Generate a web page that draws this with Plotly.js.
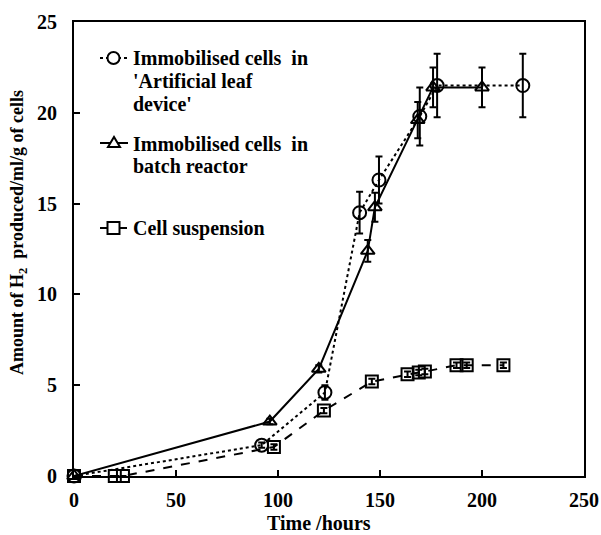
<!DOCTYPE html>
<html>
<head>
<meta charset="utf-8">
<script src="https://cdn.plot.ly/plotly-3.0.1.min.js"></script>
<style>html,body{margin:0;padding:0;background:#fff;}#chart{width:601px;height:535px;}</style>
</head>
<body>
<div id="chart"></div>
<script>
// Immobilised cells in 'Artificial leaf device'
var leafTime = [0, 92, 123, 140, 149.5, 169.5, 178, 220];
var leafH2   = [0, 1.7, 4.6, 14.5, 16.3, 19.8, 21.5, 21.5];
var leafErr  = [0, 0.15, 0.4, 1.15, 1.3, 1.6, 1.75, 1.75];

// Immobilised cells in batch reactor
var batchTime = [0, 96, 120, 144, 147.5, 168.5, 176, 200];
var batchH2   = [0, 3.0, 5.9, 12.4, 14.8, 19.6, 21.4, 21.4];
var batchErr  = [0, 0.15, 0.2, 0.6, 0.8, 1.0, 1.1, 1.1];

// Cell suspension
var suspTime = [0, 20, 24, 98, 122.5, 146, 163.5, 169, 172, 187.5, 192.5, 210.5];
var suspH2   = [0, 0, 0, 1.6, 3.6, 5.2, 5.6, 5.7, 5.75, 6.1, 6.1, 6.1];
var suspErr  = [0, 0, 0, 0.15, 0.15, 0.15, 0.15, 0.15, 0.15, 0.15, 0.15, 0.15];

// Legend text lines
var legendLines1 = ["Immobilised cells  in", "'Artificial leaf", "device'"];
var legendLines2 = ["Immobilised cells  in", "batch reactor"];
var legendLines3 = ["Cell suspension"];
var xTitle = "Time /hours";
var yTitle = "Amount of H<sub>2</sub>  produced/ml/g of cells";

function errCfg(arr){
  return {type:'data', array:arr, visible:true, color:'#000', thickness:2, width:3.5};
}

var traces = [
  {x:leafTime, y:leafH2, name:legendLines1.join(' '), type:'scatter', mode:'lines+markers',
   line:{color:'#000', width:2, dash:'dot'},
   marker:{symbol:'circle-open', size:13, color:'#000', line:{width:2, color:'#000'}},
   error_y:errCfg(leafErr), cliponaxis:false},
  {x:batchTime, y:batchH2, name:legendLines2.join(' '), type:'scatter', mode:'lines+markers',
   line:{color:'#000', width:2, dash:'solid'},
   marker:{symbol:'triangle-up-open', size:12, color:'#000', line:{width:2, color:'#000'}},
   error_y:errCfg(batchErr), cliponaxis:false},
  {x:suspTime, y:suspH2, name:legendLines3.join(' '), type:'scatter', mode:'lines+markers',
   line:{color:'#000', width:2, dash:'dash'},
   marker:{symbol:'square-open', size:12, color:'#000', line:{width:2, color:'#000'}},
   error_y:errCfg(suspErr), cliponaxis:false}
];

var fontFam = '"Liberation Serif", "Times New Roman", serif';

// plot area geometry (pixels) used to place the hand-made legend
var L = 74, R = 17, T = 22, B = 59, W = 601, H = 535;
var pw = W - L - R, ph = H - T - B;
function px2paperX(px){ return (px - L) / pw; }
function px2paperY(py){ return (H - B - py) / ph; }

var annotations = [];
var shapes = [];
function addLegendText(lines, ys){
  lines.forEach(function(t, i){
    annotations.push({xref:'paper', yref:'paper', x:px2paperX(131), y:px2paperY(ys[i]),
      xanchor:'left', yanchor:'middle', showarrow:false, text:t,
      font:{family:fontFam, size:20, color:'#000', weight:'bold'}});
  });
}
addLegendText(legendLines1, [58, 81, 103.5]);
addLegendText(legendLines2, [143.5, 166]);
addLegendText(legendLines3, [228.5]);

function legLine(py, dash){
  shapes.push({type:'line', xref:'paper', yref:'paper', x0:px2paperX(100), x1:px2paperX(128),
    y0:px2paperY(py), y1:px2paperY(py), line:{color:'#000', width:2, dash:dash}});
}
legLine(58, 'dot'); legLine(143, 'solid'); legLine(228, 'dash');
shapes.push({type:'circle', xref:'paper', yref:'paper', xsizemode:'pixel', ysizemode:'pixel',
  xanchor:px2paperX(113.5), yanchor:px2paperY(58), x0:-6, x1:6, y0:-6, y1:6,
  fillcolor:'#fff', line:{color:'#000', width:2}});
shapes.push({type:'path', xref:'paper', yref:'paper', xsizemode:'pixel', ysizemode:'pixel',
  xanchor:px2paperX(114), yanchor:px2paperY(143), path:'M -6,-4 L 6,-4 L 0,6 Z',
  fillcolor:'#fff', line:{color:'#000', width:2}});
shapes.push({type:'rect', xref:'paper', yref:'paper', xsizemode:'pixel', ysizemode:'pixel',
  xanchor:px2paperX(113.5), yanchor:px2paperY(228), x0:-6, x1:6, y0:-6, y1:6,
  fillcolor:'#fff', line:{color:'#000', width:2}});

// axis titles placed as annotations to match their off-centre positions
annotations.push({xref:'paper', yref:'paper', x:px2paperX(319), y:px2paperY(523),
  xanchor:'center', yanchor:'middle', showarrow:false, text:xTitle,
  font:{family:fontFam, size:20, color:'#000', weight:'bold'}});
annotations.push({xref:'paper', yref:'paper', x:px2paperX(19), y:px2paperY(233),
  xanchor:'center', yanchor:'middle', showarrow:false, text:yTitle, textangle:-90,
  font:{family:fontFam, size:18, color:'#000', weight:'bold'}});

var layout = {
  width:W, height:H,
  margin:{l:L, r:R, t:T, b:B},
  paper_bgcolor:'#fff', plot_bgcolor:'#fff',
  font:{family:fontFam, color:'#000', size:20, weight:'bold'},
  showlegend:false,
  annotations:annotations,
  shapes:shapes,
  xaxis:{range:[0,250], dtick:50, tick0:0, ticks:'inside', ticklen:6, tickwidth:2, tickcolor:'#000',
         showline:true, linecolor:'#000', linewidth:2, mirror:true, showgrid:false, zeroline:false,
         ticklabelstandoff:5,
         tickfont:{family:fontFam, size:20, weight:'bold', color:'#000'}},
  yaxis:{range:[0,25], dtick:5, tick0:0, ticks:'inside', ticklen:6, tickwidth:2, tickcolor:'#000',
         showline:true, linecolor:'#000', linewidth:2, mirror:true, showgrid:false, zeroline:false,
         ticklabelstandoff:11,
         tickfont:{family:fontFam, size:20, weight:'bold', color:'#000'}}
};

Plotly.newPlot('chart', traces, layout, {displayModeBar:false, staticPlot:true});
</script>
</body>
</html>
